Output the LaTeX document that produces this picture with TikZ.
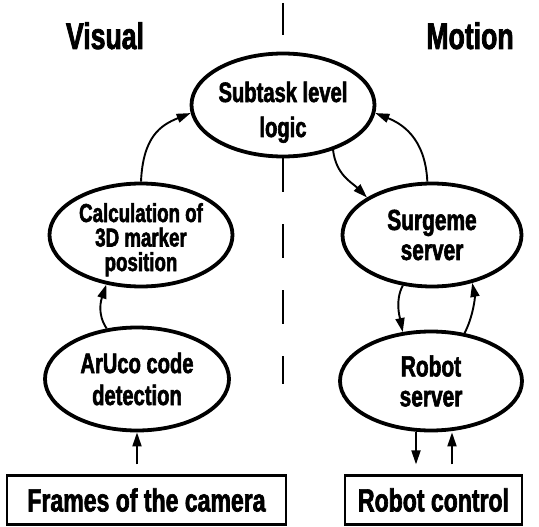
\documentclass[tikz,border=0pt]{standalone}
\usepackage{fontspec}
\newfontfamily\narrowbf{Liberation Sans Bold}[FakeStretch=0.72,FakeBold=2]
\usetikzlibrary{shapes.geometric,arrows.meta}

\tikzset{every picture/.style={line width=1.8pt}}
\tikzset{
  stage/.style={draw,ellipse,line width=3.8pt,minimum width=183pt,minimum height=103pt,inner sep=-12pt,align=center,fill=white},
  endbox/.style={draw,rectangle,line width=2.2pt,minimum height=49pt,inner sep=0pt,align=center,font=\narrowbf\fontsize{32}{36}\selectfont},
  flow/.style={-{Triangle[length=14pt,width=9pt]},line width=1.9pt},
  title/.style={anchor=base,inner sep=0pt,font=\narrowbf\fontsize{37}{40}\selectfont},
  divider/.style={line width=2.5pt},
}

\begin{document}
\begin{tikzpicture}[x=1pt,y=1pt,yscale=-1,xscale=1]
\useasboundingbox (0,0) rectangle (539,527);

% Titles
\node[title] (visual) at (105,49) {Visual};
\node[title] (motion) at (470,49) {Motion};

% Ellipses
\node[stage,font=\narrowbf\fontsize{28}{35}\selectfont,text height=66pt,text depth=2pt] (subtask) at (283,105) {Subtask level\\logic};
\node[stage,font=\narrowbf\fontsize{26}{24.5}\selectfont,text height=76pt,text depth=4pt] (calc) at (141,235) {Calculation of\\3D marker\\position};
\node[stage,font=\narrowbf\fontsize{29}{30}\selectfont,minimum width=179pt] (surgeme) at (432,235) {Surgeme\\server};
\node[stage,font=\narrowbf\fontsize{28}{32}\selectfont,minimum width=184pt] (aruco) at (137,379) {ArUco code\\detection};
\node[stage,font=\narrowbf\fontsize{29}{30}\selectfont,minimum width=182pt,minimum height=99pt] (robot) at (431,381) {Robot\\server};

% Boxes
\node[endbox,minimum width=279pt] (frames) at (146.5,500) {Frames of the camera};
\node[endbox,minimum width=177pt] (control) at (433.5,500) {Robot control};

% Dividing line
\coordinate (divtop) at (283,3);
\coordinate (divbot) at (283,384);
\draw[divider] (divtop) -- ++(0,32);
\draw[divider,dash pattern=on 34pt off 32pt] (subtask.south) -- (divbot);

% Visual side
\draw[flow,shorten <=10pt] (frames.north -| aruco.south) -- (aruco.south);
\draw[flow] (aruco.121) .. controls +(-10,-15) and +(-5,15) .. (calc.235);
\draw[flow] (calc.north) .. controls +(2,-45) and +(-30,12) .. (subtask.185);

% Motion side
\draw[flow] (subtask.-42) .. controls +(3,25) and +(-15,-15) .. (surgeme.150);
\draw[flow] (surgeme.95) .. controls +(-2,-45) and +(25,10) .. (subtask.-5);
\draw[flow] (surgeme.240) .. controls +(-8,15) and +(-3,-15) .. (robot.120);
\draw[flow] (robot.55) .. controls +(8,-15) and +(3,15) .. (surgeme.-50);
\draw[flow,shorten >=10pt] ([xshift=-15pt]robot.south) -- ([xshift=-15pt]robot.south |- control.north);
\draw[flow,shorten <=10pt] ([xshift=21pt]robot.south |- control.north) -- ([xshift=21pt]robot.south);

\end{tikzpicture}
\end{document}
